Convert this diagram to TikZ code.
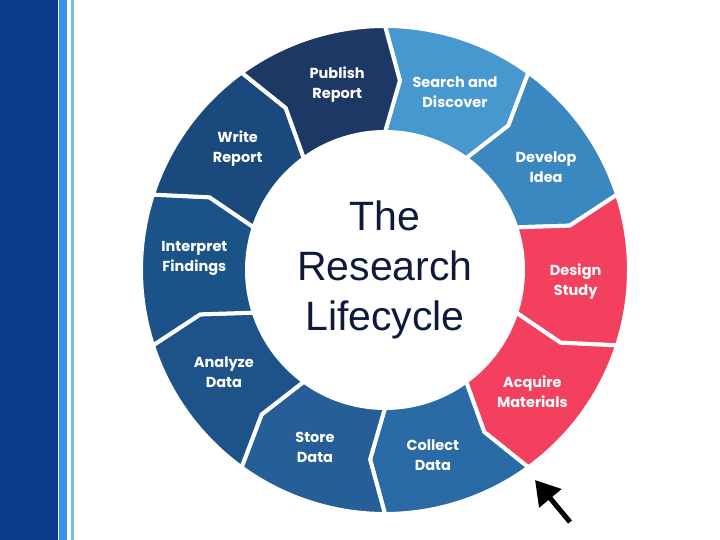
\documentclass[tikz,border=0pt]{standalone}
\usepackage{fontspec}
\setmainfont{Liberation Sans}
\newfontfamily\segfont{Poppins}
\usetikzlibrary{arrows.meta}

\definecolor{barblue}{HTML}{0B3D8C}
\definecolor{barlight}{HTML}{3794EE}
\definecolor{barpale}{HTML}{78BDE0}
\definecolor{titlenavy}{HTML}{0D1A3A}
\definecolor{segPub}{HTML}{1E3866}
\definecolor{segSearch}{HTML}{4698CF}
\definecolor{segDevelop}{HTML}{3B87BF}
\definecolor{segRed}{HTML}{F3405F}
\definecolor{segCollect}{HTML}{2A6AA5}
\definecolor{segStore}{HTML}{265E97}
\definecolor{segAnalyze}{HTML}{1E5389}
\definecolor{segInterpret}{HTML}{1B5287}
\definecolor{segWrite}{HTML}{1A497D}

\begin{document}
\begin{tikzpicture}[x=1pt, y=1pt,
    seg/.style={draw=white, line width=4pt, line join=miter},
    seglabel/.style={text=white, align=center,
      font=\segfont\bfseries\fontsize{14.5}{20}\selectfont}]

  \useasboundingbox (0,0) rectangle (720,540);

  % Side bars
  \fill[barblue] (0,0) rectangle (58,540);
  \fill[barlight] (59,0) rectangle (66.7,540);
  \fill[barpale] (71,0) rectangle (74,540);

  % Ring
  \coordinate (O) at (385,270);
  \def\Ro{244} \def\Rm{190} \def\Ri{138}
  \begin{scope}[shift={(O)}]
    \foreach \a/\col/\name/\txt in {
        90/segSearch/search/{Search and\\Discover},
        54/segDevelop/develop/{Develop\\Idea},
        18/segRed/design/{Design\\Study},
        -18/segRed/acquire/{Acquire\\Materials},
        -54/segCollect/collect/{Collect\\Data},
        -90/segStore/store/{Store\\Data},
        -126/segAnalyze/analyze/{Analyze\\Data},
        -162/segInterpret/interpret/{Interpret\\Findings},
        162/segWrite/write/{Write\\Report},
        126/segPub/publish/{Publish\\Report}}
    {
      \pgfmathsetmacro\b{\a-36}
      \pgfmathsetmacro\ta{\a-4.5}
      \pgfmathsetmacro\tb{\b-4.5}
      \pgfmathsetmacro\m{\a-21.5}
      \filldraw[seg, fill=\col] (\a:\Ro) arc[start angle=\a, end angle=\b, radius=\Ro]
        -- (\tb:\Rm) -- (\b:\Ri) arc[start angle=\b, end angle=\a, radius=\Ri]
        -- (\ta:\Rm) -- cycle;
      \node[seglabel] (\name) at (\m:191) {\txt};
    }
  \end{scope}

  % Title
  \node[text=titlenavy, align=center, font=\fontsize{41}{50}\selectfont] (title) at (O) {The\\Research\\Lifecycle};

  % Pointer
  \coordinate (ptail) at (570,18);
  \coordinate (ptip) at (535,60);
  \draw[line width=5pt, -{Triangle[length=24pt, width=28pt]}] (ptail) -- (ptip);

\end{tikzpicture}
\end{document}
